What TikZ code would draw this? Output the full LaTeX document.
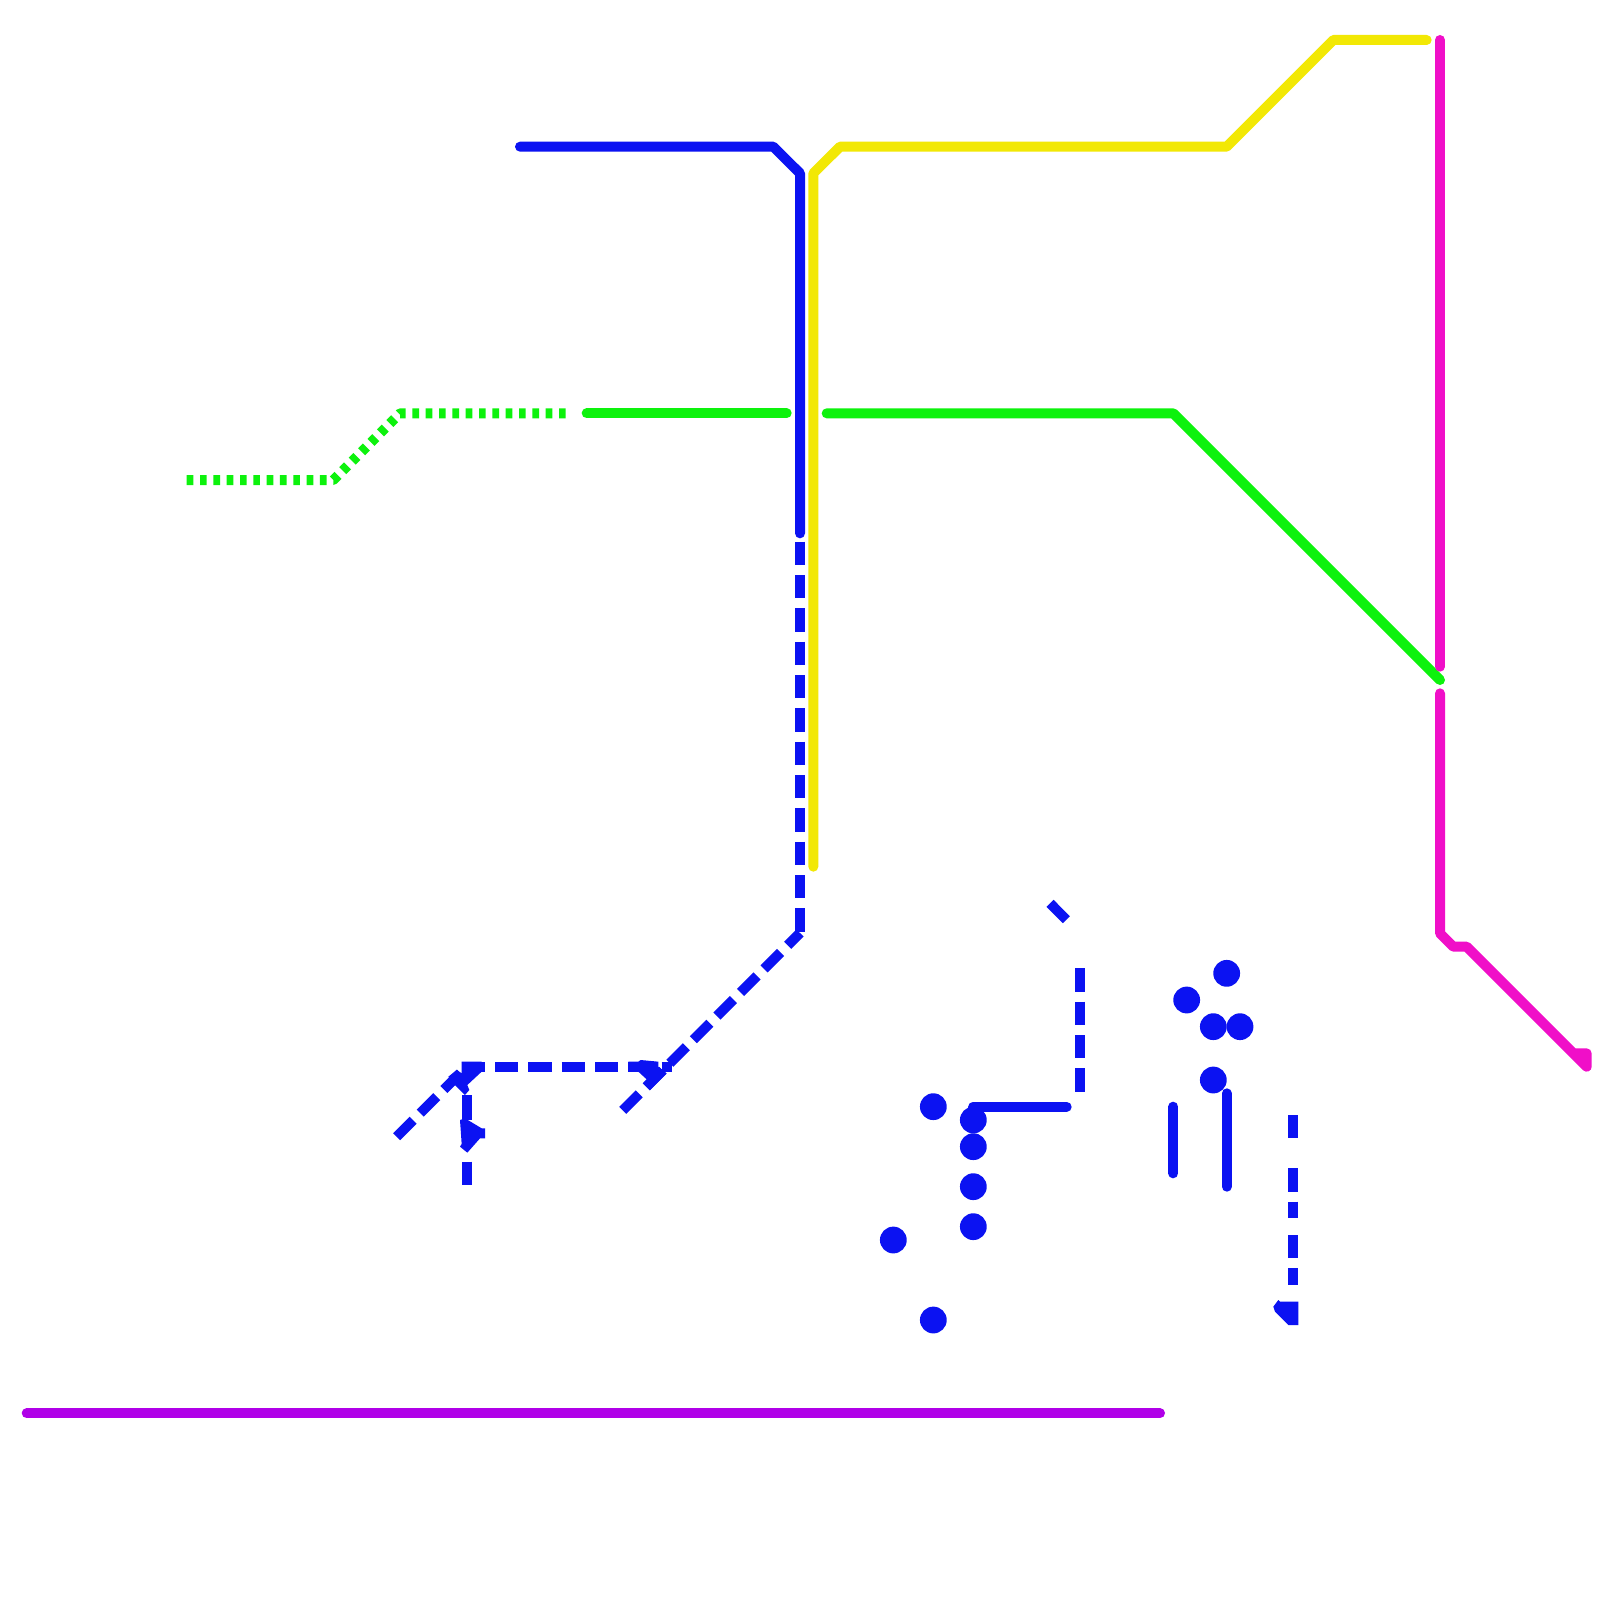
\documentclass[tikz,border=0pt]{standalone}
\definecolor{mblue}{HTML}{0B12F2}
\definecolor{myellow}{HTML}{F2E805}
\definecolor{mgreen}{HTML}{0DF20D}
\definecolor{mmagenta}{HTML}{F00FC8}
\definecolor{mpurple}{HTML}{B000E8}
\tikzset{
  solidline/.style={line width=5pt,line cap=round,line join=round},
  bluedash/.style={line width=5pt,mblue,line cap=butt,dash pattern=on 11.667pt off 5pt},
  bluebar/.style={line width=5pt,mblue,line cap=butt},
  greendot/.style={line width=5pt,mgreen,line cap=butt,line join=bevel,dash pattern=on 3.333pt off 3.333pt},
  stationdot/.style={circle,fill=mblue,draw=none,minimum size=13.4pt,inner sep=0pt,outer sep=0pt},
  crop/.style={mblue,scale=0.33333}
}
\begin{document}
\begin{tikzpicture}[x=0.5pt,y=-0.5pt]
\useasboundingbox[fill=white] (0,0) rectangle (1600,1600);
% purple
\draw[solidline,mpurple] (26.7,1413.3) -- (1160,1413.3);
% green
\draw[greendot] (186.67,480) -- (333.33,480) -- (400,413.33) -- (566.67,413.33);
\draw[solidline,mgreen] (586.67,413.33) -- (786.67,413.33);
\draw[solidline,mgreen] (826.67,413.33) -- (1173.33,413.33) -- (1440,680);
% yellow
\draw[solidline,myellow] (813.33,866.67) -- (813.33,173.33) -- (840,146.67) -- (1226.67,146.67) -- (1333.33,40) -- (1426.67,40);
% magenta
\draw[solidline,mmagenta] (1440,40) -- (1440,666.67);
\draw[solidline,mmagenta] (1440,693.33) -- (1440,933.33) -- (1453.33,946.67) -- (1466.67,946.67) -- (1586.67,1066.67) -- (1586.67,1053.33) -- (1573.33,1053.33);
\fill[mmagenta] (1573.33,1053.33) -- (1586.67,1053.33) -- (1586.67,1066.67) -- cycle;
% blue solid
\draw[solidline,mblue] (520,146.67) -- (773.33,146.67) -- (800,173.33) -- (800,533.33);
\draw[solidline,mblue] (973.33,1120) -- (973.33,1106.67) -- (1066.67,1106.67);
\draw[solidline,mblue] (1173.33,1106.67) -- (1173.33,1173.33);
\draw[solidline,mblue] (1226.67,1093.33) -- (1226.67,1186.67);
% blue dashed
\draw[bluedash] (800,541.67) -- (800,933.33);
\draw[bluedash] (622.7,1110.4) -- (800,933);
\draw[bluedash] (396.7,1136.7) -- (466.7,1066.7);
\draw[bluedash] (461.67,1066.67) -- (671.67,1066.67);
\draw[bluebar] (466.67,1095) -- (466.67,1120);
\draw[bluebar] (466.67,1161.67) -- (466.67,1185);
\draw[bluebar] (1050,903.3) -- (1066.3,919.7);
\draw[bluebar] (1080,968.33) -- (1080,991.67);
\draw[bluebar] (1080,1001.67) -- (1080,1025);
\draw[bluebar] (1080,1035) -- (1080,1058.33);
\draw[bluebar] (1080,1068.33) -- (1080,1091.67);
\draw[bluebar] (1293.33,1115) -- (1293.33,1138.33);
\draw[bluebar] (1293.33,1168.33) -- (1293.33,1191.67);
\draw[bluebar] (1293.33,1201.67) -- (1293.33,1218.33);
\draw[bluebar] (1293.33,1235) -- (1293.33,1258.33);
\draw[bluebar] (1293.33,1268.33) -- (1293.33,1285);
% blue dash clusters
\fill[shift={(380,1040)},crop] (245,65) -- (245,100) -- (230,90) -- (205,110) -- (215,125) -- (255,165) -- (268,150) -- (262,135) -- (305,95) -- (305,65) -- cycle;
\fill[shift={(380,1040)},crop] (240,240) -- (255,235) -- (305,265) -- (315,265) -- (315,295) -- (300,295) -- (262,338) -- (240,320) -- (245,312) -- cycle;
\fill[shift={(380,1040)},crop] (745,65) -- (775,65) -- (782,60) -- (835,65) -- (835,80) -- (860,100) -- (810,150) -- (790,128) -- (800,118) -- (775,95) -- (745,95) -- cycle;
\fill[shift={(1240,1100)},crop] (100,620) -- (115,600) -- (120,605) -- (175,605) -- (175,675) -- (145,675) -- (105,635) -- cycle;
% stations
\node[stationdot] (s1) at (933.33,1106.67) {};
\node[stationdot] (s2) at (973.33,1120) {};
\node[stationdot] (s3) at (973.33,1146.67) {};
\node[stationdot] (s4) at (973.33,1186.67) {};
\node[stationdot] (s5) at (973.33,1226.67) {};
\node[stationdot] (s6) at (893.33,1240) {};
\node[stationdot] (s7) at (933.33,1320) {};
\node[stationdot] (s8) at (1186.67,1000) {};
\node[stationdot] (s9) at (1213.33,1026.67) {};
\node[stationdot] (s10) at (1240,1026.67) {};
\node[stationdot] (s11) at (1226.67,973.33) {};
\node[stationdot] (s12) at (1213.33,1080) {};
\end{tikzpicture}
\end{document}
